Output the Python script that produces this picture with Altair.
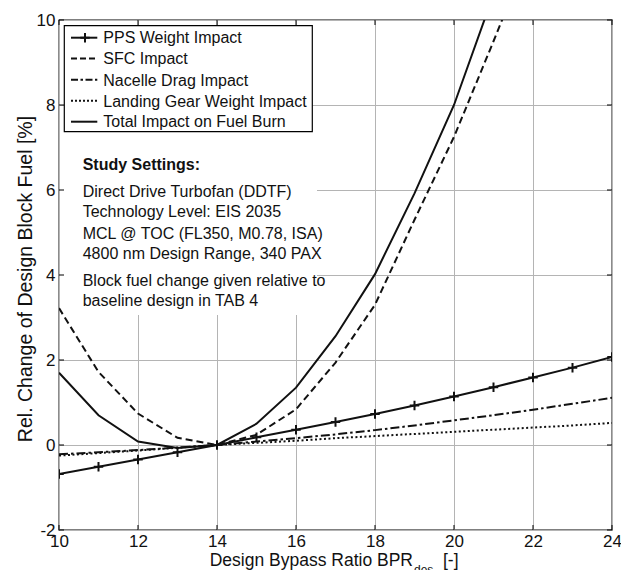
import altair as alt
import pandas as pd

# ---------------- data ----------------
bpr = [10, 11, 12, 13, 14, 15, 16, 17, 18, 19, 20, 21, 22, 23, 24]
pps_weight = [-0.68, -0.51, -0.34, -0.17, 0.0, 0.18, 0.36, 0.54, 0.73, 0.93, 1.14, 1.36, 1.59, 1.82, 2.07]
nacelle_drag = [-0.22, -0.17, -0.12, -0.06, 0.0, 0.08, 0.16, 0.25, 0.35, 0.46, 0.58, 0.70, 0.83, 0.97, 1.11]
landing_gear = [-0.25, -0.19, -0.13, -0.065, 0.0, 0.05, 0.10, 0.16, 0.21, 0.26, 0.31, 0.36, 0.41, 0.46, 0.52]
bpr_sfc = [10, 11, 12, 13, 14, 15, 16, 17, 18, 19, 20, 21, 22]
sfc = [3.22, 1.72, 0.74, 0.17, 0.0, 0.24, 0.84, 1.94, 3.30, 5.30, 7.25, 9.50, 11.8]
bpr_total = [10, 11, 12, 13, 14, 15, 16, 17, 18, 19, 20, 21]
total = [1.70, 0.70, 0.08, -0.07, 0.0, 0.50, 1.35, 2.56, 4.02, 5.92, 8.00, 10.6]

legend_labels = ["PPS Weight Impact", "SFC Impact", "Nacelle Drag Impact",
                 "Landing Gear Weight Impact", "Total Impact on Fuel Burn"]
settings_title = "Study Settings:"
settings_lines = ["Direct Drive Turbofan (DDTF)", "Technology Level: EIS 2035",
                  "MCL @ TOC (FL350, M0.78, ISA)", "4800 nm Design Range, 340 PAX"]
note_lines = ["Block fuel change given relative to", "baseline design in TAB 4"]
x_ticks = [10, 12, 14, 16, 18, 20, 22, 24]
y_ticks = [-2, 0, 2, 4, 6, 8, 10]
x_title_main = "Design Bypass Ratio BPR"
x_title_sub = "des"
x_title_unit = "[-]"
y_title = "Rel. Change of Design Block Fuel [%]"

# ---------------- layout / style ----------------
W, H = 553, 510
FONT = "Liberation Sans"
INK = "#111111"
LW = 2

xs = alt.Scale(domain=[10, 24], nice=False, zero=False)
ys = alt.Scale(domain=[-2, 10], nice=False, zero=False)

dummy = pd.DataFrame({"d": [0]})

def series_df(xv, yv):
    return pd.DataFrame({"bpr": xv, "val": yv})

X = alt.X("bpr:Q", scale=xs,
          axis=alt.Axis(values=x_ticks, title=None, labelFontSize=17, labelFont=FONT,
                        labelColor=INK, ticks=False, domain=False, grid=True,
                        gridColor="#b4b4b4", gridWidth=1, labelPadding=3,
                        labelFlush=False, labelOverlap=False,
                        labelExpr="datum.value + ''"))
Y = alt.Y("val:Q", scale=ys,
          axis=alt.Axis(values=y_ticks, title=None,
                        labelFontSize=17, labelFont=FONT, labelColor=INK, ticks=False,
                        domain=False, grid=True, gridColor="#b4b4b4", gridWidth=1,
                        labelPadding=4, labelOverlap=False,
                        labelExpr="datum.value + ''"))

# base (carries axes)
base = alt.Chart(series_df(bpr, pps_weight)).mark_line(opacity=0).encode(x=X, y=Y)

# white background patch for the text block (hides grid)
patch = alt.Chart(dummy).mark_rect(fill="white", stroke=None).encode(
    x=alt.value(1), x2=alt.value(258), y=alt.value(111), y2=alt.value(295))

def line_layer(xv, yv, dash=None):
    kw = dict(color=INK, strokeWidth=LW, clip=True)
    if dash:
        kw["strokeDash"] = dash
    return alt.Chart(series_df(xv, yv)).mark_line(**kw).encode(
        x=alt.X("bpr:Q", scale=xs), y=alt.Y("val:Q", scale=ys))

DASH = [7, 4]
DASHDOT = [9, 3, 2.5, 3]
DOT = [2, 2.5]
PLUS = "M-1,0L1,0M0,-1L0,1"

l_gear = line_layer(bpr, landing_gear, DOT)
l_nac = line_layer(bpr, nacelle_drag, DASHDOT)
l_sfc = line_layer(bpr_sfc, sfc, DASH)
l_tot = line_layer(bpr_total, total)
l_pps = line_layer(bpr, pps_weight)
p_pps = alt.Chart(series_df(bpr, pps_weight)).mark_point(
    shape=PLUS, filled=False, color=INK, strokeWidth=2, size=90, opacity=1, clip=True
).encode(x=alt.X("bpr:Q", scale=xs), y=alt.Y("val:Q", scale=ys))

# legend box
leg_box = alt.Chart(dummy).mark_rect(fill="white", stroke="#000", strokeWidth=1.2).encode(
    x=alt.value(5.3), x2=alt.value(253.3), y=alt.value(5.7), y2=alt.value(111.7))
row_y = [17.7, 38.5, 59.8, 80.8, 101.7]
dashes = [None, [6, 3], [7, 2.5, 2.5, 2.5], [2, 2], None]
leg_layers = [leg_box]
for lab, ry, dsh in zip(legend_labels, row_y, dashes):
    kw = dict(color=INK, strokeWidth=LW)
    if dsh:
        kw["strokeDash"] = dsh
    leg_layers.append(alt.Chart(dummy).mark_rule(**kw).encode(
        x=alt.value(12), x2=alt.value(38.3), y=alt.value(ry)))
    leg_layers.append(alt.Chart(dummy).mark_text(
        text=lab, font=FONT, fontSize=16, color=INK, align="left", baseline="alphabetic"
    ).encode(x=alt.value(44.3), y=alt.value(ry + 5.7)))
leg_layers.append(alt.Chart(dummy).mark_point(
    shape=PLUS, filled=False, color=INK, strokeWidth=2, size=90, opacity=1
).encode(x=alt.value(26), y=alt.value(row_y[0])))

# study settings text block
txt_layers = [alt.Chart(dummy).mark_text(
    text=settings_title, font=FONT, fontSize=16, fontWeight="bold", color=INK,
    align="left", baseline="alphabetic").encode(x=alt.value(23.7), y=alt.value(150.2))]
for t, yb in zip(settings_lines + note_lines, [176.5, 196.9, 218.5, 239.0, 265.7, 285.9]):
    txt_layers.append(alt.Chart(dummy).mark_text(
        text=t, font=FONT, fontSize=16, color=INK, align="left", baseline="alphabetic"
    ).encode(x=alt.value(23.7), y=alt.value(yb)))

# inward ticks on all four sides
xt_df = pd.DataFrame({"bpr": x_ticks})
yt_df = pd.DataFrame({"val": y_ticks})
TK = dict(color="#000", strokeWidth=1)
ticks = [
    alt.Chart(xt_df).mark_rule(**TK).encode(x=alt.X("bpr:Q", scale=xs), y=alt.value(H - 5), y2=alt.value(H)),
    alt.Chart(xt_df).mark_rule(**TK).encode(x=alt.X("bpr:Q", scale=xs), y=alt.value(0), y2=alt.value(5)),
    alt.Chart(yt_df).mark_rule(**TK).encode(y=alt.Y("val:Q", scale=ys), x=alt.value(0), x2=alt.value(5)),
    alt.Chart(yt_df).mark_rule(**TK).encode(y=alt.Y("val:Q", scale=ys), x=alt.value(W - 5), x2=alt.value(W)),
]

# axis titles (x title with subscript)
yt_text = alt.Chart(dummy).mark_text(text=y_title, font=FONT, fontSize=19.5, color=INK,
                                     angle=270, align="center", baseline="middle").encode(
    x=alt.value(-33), y=alt.value(259))
xt_main = alt.Chart(dummy).mark_text(text=x_title_main, font=FONT, fontSize=17.5, color=INK,
                                     align="right", baseline="alphabetic").encode(
    x=alt.value(354), y=alt.value(546))
xt_sub = alt.Chart(dummy).mark_text(text=x_title_sub, font=FONT, fontSize=12, color=INK,
                                    align="left", baseline="alphabetic").encode(
    x=alt.value(355), y=alt.value(554))
xt_unit = alt.Chart(dummy).mark_text(text=x_title_unit, font=FONT, fontSize=17.5, color=INK,
                                     align="left", baseline="alphabetic").encode(
    x=alt.value(384), y=alt.value(546))

chart = alt.layer(
    base, patch, l_gear, l_nac, l_sfc, l_tot, l_pps, p_pps,
    *leg_layers, *txt_layers, *ticks, yt_text, xt_main, xt_sub, xt_unit
).properties(
    width=W, height=H,
    padding={"left": 59, "top": 20, "right": 9, "bottom": 40},
    autosize=alt.AutoSizeParams(type="none"),
    background="white",
).configure_view(stroke="#000", strokeWidth=1.3)

chart.save("out.html", embed_options={"renderer": "svg", "actions": False})
